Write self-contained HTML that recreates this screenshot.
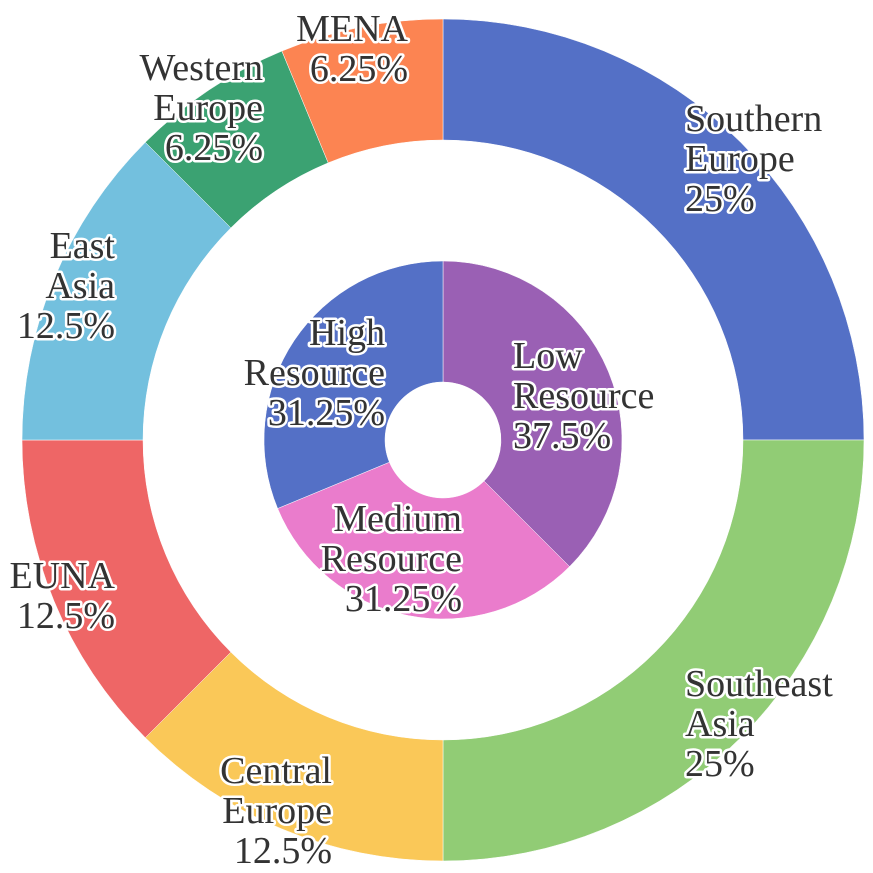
<!DOCTYPE html>
<html><head><meta charset="utf-8"><style>
html,body{margin:0;padding:0;background:#fff;}
svg{display:block;}
svg text{font-family:"Liberation Serif","DejaVu Serif","Noto Serif CJK SC",serif;font-size:38px;fill:#333;stroke:#fff;stroke-width:5px;paint-order:stroke;stroke-linejoin:round;}
</style></head><body>
<svg id="chart" width="873" height="873" xmlns="http://www.w3.org/2000/svg">
<g id="outer"></g>
<g id="inner"></g>
<g id="labels"></g>
</svg>
<script>
const outerNames=["Southern Europe","Southeast Asia","Central Europe","EUNA","East Asia","Western Europe","MENA"];
const outerValues=[25,25,12.5,12.5,12.5,6.25,6.25];
const innerNames=["Low Resource","Medium Resource","High Resource"];
const innerValues=[37.5,31.25,31.25];
const outerColors=["#5470c6","#91cc75","#fac858","#ee6666","#73c0de","#3ba272","#fc8452"];
const innerColors=["#9a60b4","#ea7ccc","#5470c6"];
const cx=443,cy=440;
const NS="http://www.w3.org/2000/svg";
function pt(r,a){return [cx+r*Math.sin(a),cy-r*Math.cos(a)];}
function arc(r0,r1,a0,a1){
  const large=(a1-a0)>Math.PI?1:0;
  const p1=pt(r1,a0),p2=pt(r1,a1),p3=pt(r0,a1),p4=pt(r0,a0);
  return `M${p1[0]},${p1[1]}A${r1},${r1} 0 ${large} 1 ${p2[0]},${p2[1]}L${p3[0]},${p3[1]}A${r0},${r0} 0 ${large} 0 ${p4[0]},${p4[1]}Z`;
}
function ring(gid,names,vals,cols,r0,r1){
  const g=document.getElementById(gid);
  const tot=vals.reduce((a,b)=>a+b,0);let a=0;
  vals.forEach((v,i)=>{
    const a1=a+v/tot*2*Math.PI;
    const p=document.createElementNS(NS,"path");
    p.setAttribute("d",arc(r0,r1,a,a1));
    p.setAttribute("fill",cols[i]);
    p.setAttribute("stroke","#fff");p.setAttribute("stroke-width","0.5");
    
    
    g.appendChild(p);a=a1;
  });
}
ring("outer",outerNames,outerValues,outerColors,300,421);
ring("inner",innerNames,innerValues,innerColors,58,179);
const outerLayout=[[685,"start",118],[685,"start",683],[332,"end",770],[115,"end",575],[115,"end",245],[263,"end",67],[408,"end",28]];
const innerLayout=[[513,"start",355],[462,"end",518],[385,"end",332]];
const outerLines=[["Southern","Europe"],["Southeast","Asia"],["Central","Europe"],["EUNA"],["East","Asia"],["Western","Europe"],["MENA"]];
const innerLines=[["Low","Resource"],["Medium","Resource"],["High","Resource"]];
function labels(names,vals,lines,layout){
  const g=document.getElementById("labels");
  const tot=vals.reduce((a,b)=>a+b,0);
  names.forEach((n,i)=>{
    const t=document.createElementNS(NS,"text");
    t.setAttribute("text-anchor",layout[i][1]);
    
    
    const ls=lines[i].concat([(Math.round(vals[i]/tot*10000)/100)+"%"]);
    ls.forEach((s,j)=>{
      const ts=document.createElementNS(NS,"tspan");
      ts.setAttribute("x",layout[i][0]);
      ts.setAttribute("y",layout[i][2]+13+j*40);
      ts.textContent=s;t.appendChild(ts);
    });
    g.appendChild(t);
  });
}
labels(outerNames,outerValues,outerLines,outerLayout);
labels(innerNames,innerValues,innerLines,innerLayout);
</script>
</body></html>
